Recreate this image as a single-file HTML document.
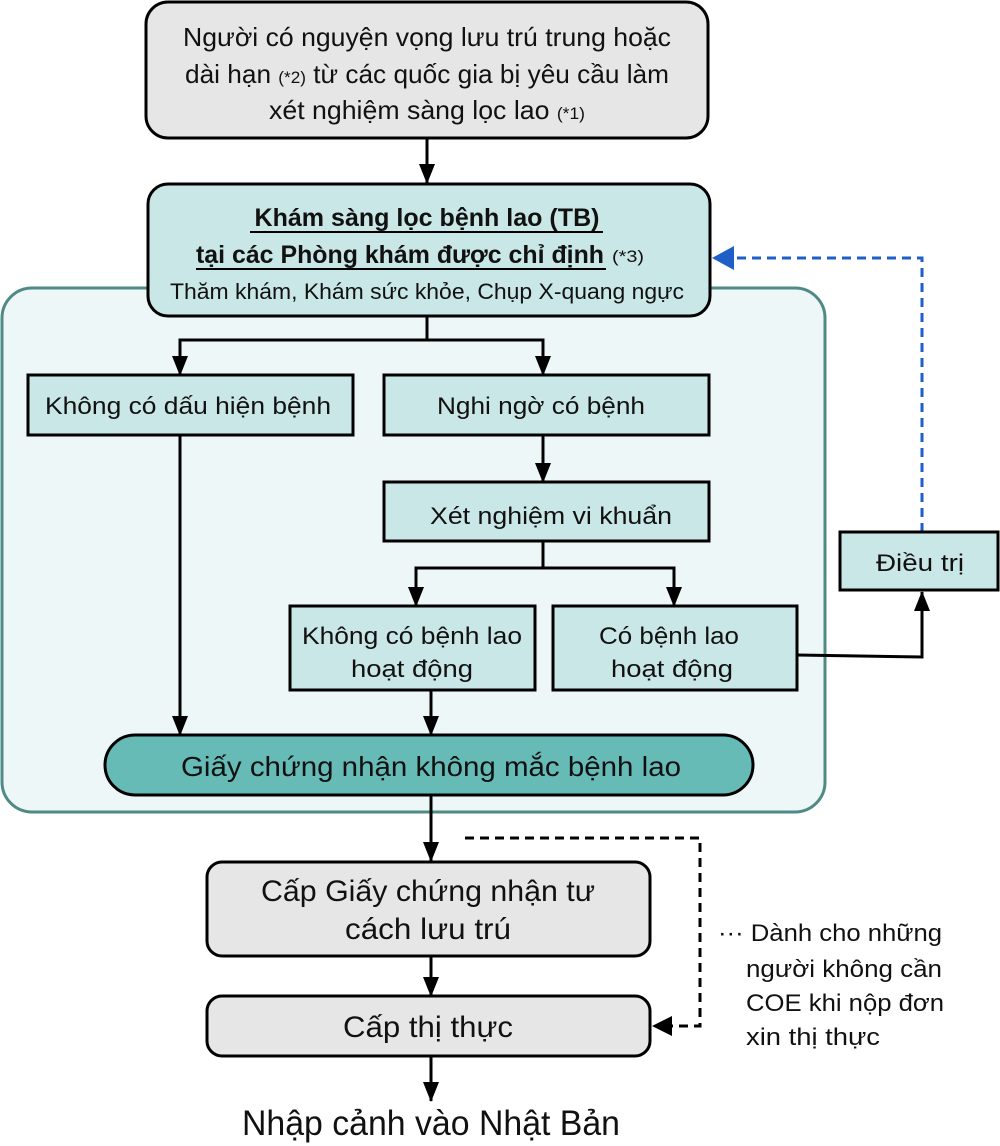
<!DOCTYPE html>
<html><head><meta charset="utf-8"><style>body{margin:0;background:#fff}svg{display:block}text{font-family:"Liberation Sans",sans-serif;fill:#111}</style></head>
<body>
<svg width="1000" height="1146" viewBox="0 0 1000 1146" xmlns="http://www.w3.org/2000/svg">
<defs>
<marker id="a" markerWidth="20" markerHeight="16" refX="19" refY="8" orient="auto" markerUnits="userSpaceOnUse" viewBox="0 0 20 16"><path d="M0,0 L20,8 L0,16z" fill="#000"/></marker>
</defs>
<rect x="2" y="288" width="823" height="524" rx="30" fill="#eef7f7" stroke="#4f8a85" stroke-width="3"/>
<rect x="146" y="2" width="562" height="136" rx="22" fill="#e6e6e6" stroke="#000" stroke-width="3"/>
<text x="427" y="46" font-size="26" text-anchor="middle" textLength="488" lengthAdjust="spacingAndGlyphs">Người có nguyện vọng lưu trú trung hoặc</text>
<text x="427" y="83" font-size="26" text-anchor="middle" textLength="484" lengthAdjust="spacingAndGlyphs">dài hạn <tspan font-size="17">(*2)</tspan> từ các quốc gia bị yêu cầu làm</text>
<text x="427" y="119" font-size="26" text-anchor="middle" textLength="316" lengthAdjust="spacingAndGlyphs">xét nghiệm sàng lọc lao <tspan font-size="17">(*1)</tspan></text>
<g stroke="#000" stroke-width="3" fill="none">
<line x1="427" y1="138" x2="427" y2="183" marker-end="url(#a)"/>
</g>
<rect x="148" y="184" width="562" height="132" rx="20" fill="#c9e7e6" stroke="#000" stroke-width="3"/>
<text x="427" y="226" font-size="25" font-weight="bold" text-anchor="middle" textLength="345" lengthAdjust="spacingAndGlyphs">Khám sàng lọc bệnh lao (TB)</text>
<line x1="250" y1="232" x2="603" y2="232" stroke="#000" stroke-width="2"/>
<text x="196" y="263" font-size="25" font-weight="bold" textLength="408" lengthAdjust="spacingAndGlyphs">tại các Phòng khám được chỉ định</text>
<line x1="196" y1="269" x2="606" y2="269" stroke="#000" stroke-width="2"/>
<text x="612" y="262" font-size="17" textLength="32" lengthAdjust="spacingAndGlyphs">(*3)</text>
<text x="427" y="299" font-size="22" text-anchor="middle" textLength="514" lengthAdjust="spacingAndGlyphs">Thăm khám, Khám sức khỏe, Chụp X-quang ngực</text>
<g stroke="#000" stroke-width="3" fill="none">
<polyline points="427,316 427,340 180,340 180,375" marker-end="url(#a)"/>
<polyline points="427,340 543,340 543,375" marker-end="url(#a)"/>
<line x1="543" y1="435" x2="543" y2="482" marker-end="url(#a)"/>
<polyline points="543,541 543,568 416,568 416,606" marker-end="url(#a)"/>
<polyline points="543,568 674,568 674,606" marker-end="url(#a)"/>
<polyline points="797,655 922,657 922,592" marker-end="url(#a)"/>
<line x1="180" y1="435" x2="180" y2="735" marker-end="url(#a)"/>
<line x1="431" y1="690" x2="431" y2="735" marker-end="url(#a)"/>
<line x1="431" y1="795" x2="431" y2="861" marker-end="url(#a)"/>
<line x1="431" y1="956" x2="431" y2="996" marker-end="url(#a)"/>
<line x1="431" y1="1056" x2="431" y2="1101" marker-end="url(#a)"/>
<polyline points="465,838 700,838 700,1026 670,1026" stroke-dasharray="9,6"/>
</g>
<path d="M652,1026 L672,1016 L672,1036z" fill="#000"/>
<polyline points="922,532 922,258 732,258" fill="none" stroke="#1f5fc8" stroke-width="3" stroke-dasharray="9,6"/>
<path d="M712,258 L734,246 L734,270z" fill="#1f5fc8"/>
<g fill="#c9e7e6" stroke="#000" stroke-width="3">
<rect x="28" y="375" width="325" height="60"/>
<rect x="384" y="375" width="325" height="60"/>
<rect x="384" y="482" width="325" height="59"/>
<rect x="290" y="606" width="245" height="84"/>
<rect x="553" y="606" width="244" height="84"/>
<rect x="840" y="532" width="158" height="58"/>
</g>
<g font-size="24" text-anchor="middle">
<text x="188" y="414" textLength="286" lengthAdjust="spacingAndGlyphs">Không có dấu hiện bệnh</text>
<text x="541" y="414" textLength="208" lengthAdjust="spacingAndGlyphs">Nghi ngờ có bệnh</text>
<text x="551" y="524" textLength="242" lengthAdjust="spacingAndGlyphs">Xét nghiệm vi khuẩn</text>
<text x="412" y="644" textLength="220" lengthAdjust="spacingAndGlyphs">Không có bệnh lao</text>
<text x="412" y="677" textLength="122" lengthAdjust="spacingAndGlyphs">hoạt động</text>
<text x="669" y="644" textLength="140" lengthAdjust="spacingAndGlyphs">Có bệnh lao</text>
<text x="672" y="677" textLength="122" lengthAdjust="spacingAndGlyphs">hoạt động</text>
<text x="920" y="571" textLength="88" lengthAdjust="spacingAndGlyphs">Điều trị</text>
</g>
<rect x="105" y="735" width="648" height="60" rx="30" fill="#66bbb7" stroke="#000" stroke-width="3"/>
<text x="431" y="776" font-size="28" text-anchor="middle" textLength="500" lengthAdjust="spacingAndGlyphs">Giấy chứng nhận không mắc bệnh lao</text>
<rect x="207" y="862" width="443" height="94" rx="15" fill="#e6e6e6" stroke="#000" stroke-width="3"/>
<text x="428" y="901" font-size="30" text-anchor="middle" textLength="334" lengthAdjust="spacingAndGlyphs">Cấp Giấy chứng nhận tư</text>
<text x="428" y="939" font-size="30" text-anchor="middle" textLength="166" lengthAdjust="spacingAndGlyphs">cách lưu trú</text>
<rect x="207" y="996" width="443" height="60" rx="15" fill="#e6e6e6" stroke="#000" stroke-width="3"/>
<text x="428" y="1037" font-size="30" text-anchor="middle" textLength="170" lengthAdjust="spacingAndGlyphs">Cấp thị thực</text>
<text x="431" y="1135" font-size="35" text-anchor="middle" textLength="378" lengthAdjust="spacingAndGlyphs">Nhập cảnh vào Nhật Bản</text>
<g font-size="24">
<text x="718" y="941" textLength="224" lengthAdjust="spacingAndGlyphs">··· Dành cho những</text>
<text x="746" y="977" textLength="196" lengthAdjust="spacingAndGlyphs">người không cần</text>
<text x="746" y="1011" textLength="198" lengthAdjust="spacingAndGlyphs">COE khi nộp đơn</text>
<text x="746" y="1045" textLength="134" lengthAdjust="spacingAndGlyphs">xin thị thực</text>
</g>
</svg>
</body></html>
